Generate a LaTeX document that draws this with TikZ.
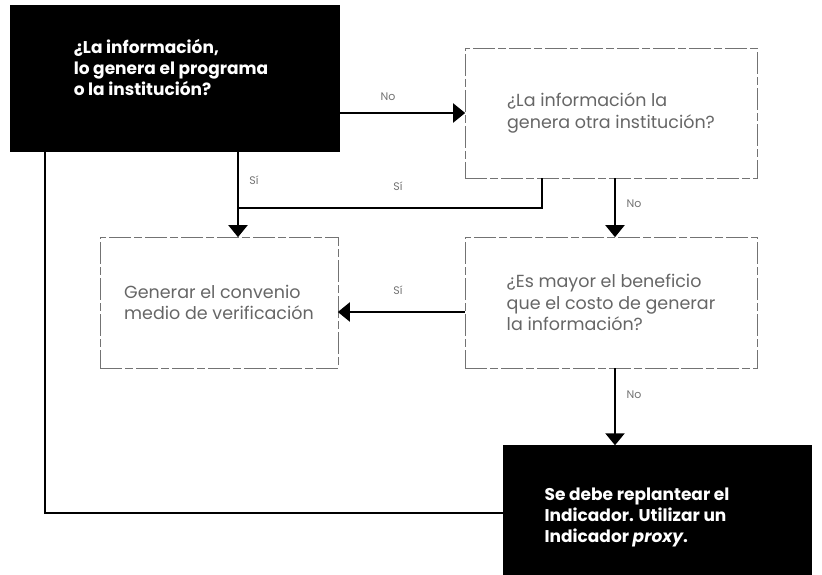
\documentclass[tikz,border=0pt]{standalone}
\usepackage{fontspec}
\setmainfont{Poppins}
\usetikzlibrary{arrows.meta}

\tikzset{
  blkbox/.style={fill=black, inner sep=0pt},
  blktxt/.style={text=white, font=\bfseries\fontsize{17}{21}\selectfont, align=left, inner sep=0pt},
  whtbox/.style={draw=black!55, line width=0.7pt, dash pattern=on 22pt off 3pt on 8pt off 3pt,
    text=black!60, font=\fontsize{17.5}{21.5}\selectfont, align=left, inner sep=0pt},
  conn/.style={line width=2.2pt, black},
  arr/.style={conn, -{Triangle[width=19pt,length=12pt]}, shorten >=-0.5pt},
  lbl/.style={text=black!55, font=\fontsize{11}{12}\selectfont, inner sep=0pt}
}

\begin{document}
\begin{tikzpicture}[x=1pt, y=-1pt]
  \useasboundingbox (0,0) rectangle (822,575);

  % cajas
  \node[blkbox, minimum width=330pt, minimum height=147pt] (q1) at (175,78.5) {};
  \node[blktxt] (q1txt) at (171,67) {¿La información,\\lo genera el programa\\o la institución?};
  \node[whtbox, minimum width=292pt, minimum height=130pt] (q2) at (611,113)
    {¿La información la\\genera otra institución?};
  \node[whtbox, minimum width=238pt, minimum height=131pt] (gen) at (219,302.5)
    {Generar el convenio\\medio de verificación};
  \node[whtbox, minimum width=292pt, minimum height=131pt] (q4) at (611,302.5)
    {¿Es mayor el beneficio\\que el costo de generar\\la información?};
  \node[blkbox, minimum width=309pt, minimum height=130pt] (rep) at (657.5,510) {};
  \node[blktxt] (reptxt) at (637,517) {Se debe replantear el\\Indicador. Utilizar un\\Indicador \textit{proxy}.};

  % puntos de apoyo
  \coordinate (sx) at (238,0);
  \coordinate (jx) at (542,0);
  \coordinate (nx) at (615,0);
  \coordinate (lx) at (45,0);
  \coordinate (jn) at (238,208);
  \coordinate (ys) at (0,312);
  \coordinate (yl) at (0,513);

  % conectores
  \draw[arr] (q1.east |- q2.west) -- (q2.west);
  \draw[arr] (q1.south -| sx) -- (gen.north -| sx);
  \draw[conn] (q2.south -| jx) |- (jn);
  \draw[arr] (q2.south -| nx) -- (q4.north -| nx);
  \draw[arr] (q4.west |- ys) -- (gen.east |- ys);
  \draw[arr] (q4.south -| nx) -- (rep.north -| nx);
  \draw[conn] (q1.south -| lx) |- (rep.west |- yl);

  % etiquetas
  \foreach \n/\x/\y/\t in {a/388/97/No, b/254/180/Sí, c/398/186/Sí, d/634/204/No, e/398/290/Sí, f/634/395/No}
    \node[lbl] (lab\n) at (\x,\y) {\t};

\end{tikzpicture}
\end{document}
